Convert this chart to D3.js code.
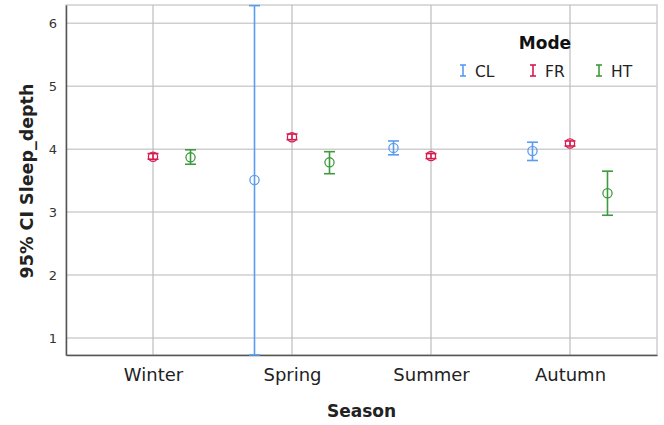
<!DOCTYPE html>
<html>
<head>
<meta charset="utf-8">
<script src="https://cdn.jsdelivr.net/npm/d3@7"></script>
<style>
  html, body { margin: 0; padding: 0; background: #fff; }
  svg { display: block; font-family: "DejaVu Sans", Verdana, sans-serif; }
</style>
</head>
<body>
<svg id="chart" width="664" height="425"></svg>
<script>
// Seasons on the x axis and the three modes drawn side by side within each season
const seasons = ["Winter", "Spring", "Summer", "Autumn"];
const modes = ["CL", "FR", "HT"];
const yTicks = [1, 2, 3, 4, 5, 6];

// Mean and 95% CI per mode, one entry per season (null = no data)
const clMean = [null, 3.51, 4.02, 3.97];
const clLow  = [null, 0.73, 3.91, 3.82];
const clHigh = [null, 6.28, 4.13, 4.11];

const frMean = [3.88, 4.19, 3.89, 4.09];
const frLow  = [3.84, 4.15, 3.85, 4.05];
const frHigh = [3.93, 4.24, 3.93, 4.13];

const htMean = [3.87, 3.79, null, 3.30];
const htLow  = [3.76, 3.61, null, 2.95];
const htHigh = [3.99, 3.96, null, 3.65];

const modeColors = { CL: "#5a9cf0", FR: "#d81b4f", HT: "#3d9a3d" };

const series = [
  { mode: "CL", mean: clMean, low: clLow, high: clHigh },
  { mode: "FR", mean: frMean, low: frLow, high: frHigh },
  { mode: "HT", mean: htMean, low: htLow, high: htHigh }
];

const FONT = '"DejaVu Sans", Verdana, sans-serif';
const svg = d3.select("#chart");
const margin = { left: 66, right: 7, top: 5, bottom: 70 };
const W = 664, H = 425;
const x0 = margin.left, x1 = W - margin.right;
const y0 = H - margin.bottom, y1 = margin.top;

const x = d3.scalePoint().domain(seasons).range([x0, x1]).padding(0.626);
const xMode = d3.scalePoint().domain(modes).range([-37.5, 37.5]);
const y = d3.scaleLinear().domain([0.73, 6.29]).range([y0, y1]);

// Frame (top and right in light grey)
svg.append("rect")
  .attr("x", x0).attr("y", y1)
  .attr("width", x1 - x0).attr("height", y0 - y1)
  .attr("fill", "none").attr("stroke", "#cfcfcf").attr("stroke-width", 1.5);

// Gridlines
svg.append("g").selectAll("line.h").data(yTicks).join("line")
  .attr("x1", x0).attr("x2", x1)
  .attr("y1", d => y(d)).attr("y2", d => y(d))
  .attr("stroke", "#cfcfcf").attr("stroke-width", 1.5);
svg.append("g").selectAll("line.v").data(seasons).join("line")
  .attr("x1", d => x(d)).attr("x2", d => x(d))
  .attr("y1", y1).attr("y2", y0)
  .attr("stroke", "#bdbdbd").attr("stroke-width", 1.2);

// Axes
const yAxis = svg.append("g")
  .attr("transform", `translate(${x0},0)`)
  .call(d3.axisLeft(y).tickValues(yTicks).tickSize(0).tickPadding(9).tickFormat(d3.format("d")));
yAxis.attr("font-family", FONT);
yAxis.select(".domain").attr("stroke", "#555").attr("stroke-width", 1.5);
yAxis.selectAll("text").attr("font-size", 13).attr("fill", "#333");

const xAxis = svg.append("g")
  .attr("transform", `translate(0,${y0})`)
  .call(d3.axisBottom(x).tickSize(0).tickPadding(0));
xAxis.attr("font-family", FONT);
xAxis.select(".domain").attr("stroke", "#555").attr("stroke-width", 1.5);
xAxis.selectAll("text").attr("font-size", 18).attr("fill", "#222")
  .attr("dy", null).attr("y", 26);

// Axis titles
svg.append("text")
  .attr("transform", `translate(33,${(y0 + y1) / 2 + 1}) rotate(-90)`)
  .attr("text-anchor", "middle")
  .attr("font-size", 17.5).attr("font-weight", "bold").attr("fill", "#222")
  .text("95% CI Sleep_depth");
svg.append("text")
  .attr("x", (x0 + x1) / 2).attr("y", 417)
  .attr("text-anchor", "middle")
  .attr("font-size", 17).attr("font-weight", "bold").attr("fill", "#222")
  .text("Season");

// Error bars with open circle at the mean, clipped to the plot area
svg.append("clipPath").attr("id", "plotClip")
  .append("rect").attr("x", x0).attr("y", y1 - 1)
  .attr("width", x1 - x0).attr("height", y0 - y1 + 2);

const marks = svg.append("g").attr("clip-path", "url(#plotClip)");
const capW = 5.5;
series.forEach(s => {
  const col = modeColors[s.mode];
  const pts = seasons.map((season, i) => ({ season, mean: s.mean[i], low: s.low[i], high: s.high[i] }))
    .filter(d => d.mean !== null);
  const g = marks.append("g").attr("stroke", col).attr("fill", "none").attr("stroke-width", 1.6);
  pts.forEach(d => {
    const cx = x(d.season) + xMode(s.mode);
    g.append("line").attr("x1", cx).attr("x2", cx).attr("y1", y(d.low)).attr("y2", y(d.high));
    g.append("line").attr("x1", cx - capW).attr("x2", cx + capW).attr("y1", y(d.low)).attr("y2", y(d.low));
    g.append("line").attr("x1", cx - capW).attr("x2", cx + capW).attr("y1", y(d.high)).attr("y2", y(d.high));
    g.append("circle").attr("cx", cx).attr("cy", y(d.mean)).attr("r", 4.6).attr("stroke-width", 1.3);
  });
});

// Legend
const legend = svg.append("g");
legend.append("text")
  .attr("x", 545).attr("y", 49)
  .attr("text-anchor", "middle")
  .attr("font-size", 17).attr("font-weight", "bold").attr("fill", "#111")
  .text("Mode");
const legendX = { CL: 463, FR: 533, HT: 599 };
modes.forEach(m => {
  const lx = legendX[m], ly = 70.5;
  const lg = legend.append("g").attr("stroke", modeColors[m]).attr("stroke-width", 1.6);
  lg.append("line").attr("x1", lx).attr("x2", lx).attr("y1", ly - 5.5).attr("y2", ly + 5.5);
  lg.append("line").attr("x1", lx - 3).attr("x2", lx + 3).attr("y1", ly - 5.5).attr("y2", ly - 5.5);
  lg.append("line").attr("x1", lx - 3).attr("x2", lx + 3).attr("y1", ly + 5.5).attr("y2", ly + 5.5);
  legend.append("text")
    .attr("x", lx + 12).attr("y", 76.5)
    .attr("font-size", 15.5).attr("fill", "#222")
    .text(m);
});
</script>
</body>
</html>
